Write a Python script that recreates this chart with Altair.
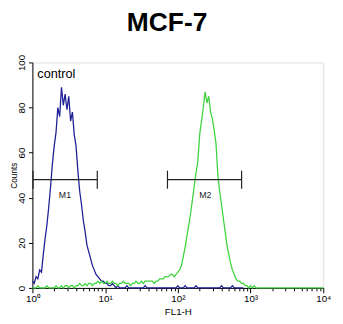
import altair as alt
import pandas as pd

TITLE = "MCF-7"
CONTROL_LABEL = "control"
X_TITLE = "FL1-H"
Y_TITLE = "Counts"
FONT = "Liberation Sans"
BLUE = "#1f1f96"
GREEN = "#3fd33f"

STEP = 0.025  # log10 channel width

# control histogram (blue), from 10^0 to 10^2.9
blue_counts = [3, 2, 5, 4, 8, 7, 15, 22, 28, 36, 45, 55, 63, 69, 80, 76, 89, 81, 86, 79,
               85, 74, 78, 68, 63, 52, 43, 37, 30, 25, 19, 16, 13, 10, 8, 6, 5, 4, 3, 3,
               2, 2, 1, 1, 2, 1, 0, 1,
               0, 0, 0, 0, 1, 0, 0, 0, 0, 0,
               0, 0, 0, 0, 1, 0, 0, 0, 0, 0,
               0, 0, 0, 0, 0, 0, 0, 0, 0, 0,
               0, 0, 1, 0, 0, 0, 1, 0, 0, 0,
               0, 0, 1, 0, 0, 0, 0, 0, 0, 0,
               0, 0, 0, 0, 0, 0, 1, 0, 0, 0,
               0, 0, 1, 0, 0, 0, 0, 0, 0]

# MCF-7 histogram (green), from 10^0 to 10^4
green_counts = ([0, 0, 0, 1, 0, 0, 0, 0, 1, 0, 0, 0, 0, 1, 0, 0, 1, 0, 1]
                + [1, 0, 1, 1, 0, 1, 1, 2, 1, 1, 2, 1, 2, 2, 1, 2, 2, 3, 2, 3, 2, 2]
                + [3, 2, 2, 3, 2, 2, 1, 2, 2, 3, 2, 2, 2, 1, 2, 2, 3, 2, 2, 3, 2, 3, 3, 3]
                + [3, 3, 2, 3, 3, 4, 4, 4, 5, 5, 5, 6, 6, 5, 6, 7]
                + [8, 10, 14, 18, 23, 28, 33, 39, 45, 51, 56, 68, 74, 80, 87, 82, 85, 78, 75, 70,
                   64, 50, 43, 37, 31, 25, 19, 15, 11, 8, 6, 4, 3, 3, 2, 2, 1, 1, 0, 1]
                + [0, 1, 0, 0, 0, 0, 0, 0, 0, 0, 0, 0, 0, 0, 0, 0, 0, 0, 0, 0,
                   0, 0, 0, 0, 0, 0, 0, 0, 0, 0, 0, 0, 0, 0, 0, 0, 0, 0, 0, 0])

x_major = [1, 10, 100, 1000, 10000]
x_major_labels = ["10⁰", "10¹", "10²", "10³", "10⁴"]
x_minor = [m * 10 ** d for d in range(4) for m in range(2, 10)]
y_ticks = [0, 20, 40, 60, 80, 100]

marker_names = ["M1", "M2"]
marker_start = [1.02, 72.0]
marker_end = [7.8, 753.0]
marker_level = [48, 48]
marker_cap_lo = [44, 44]
marker_cap_hi = [52, 52]
marker_label_x = [2.8, 238.0]
marker_label_y = [41, 41]

control_x = 1.17
control_y = 95

blue_df = pd.DataFrame({"fl": [10 ** (i * STEP) for i in range(len(blue_counts))],
                        "count": blue_counts})
green_df = pd.DataFrame({"fl": [10 ** (i * STEP) for i in range(len(green_counts))],
                         "count": green_counts})
bars_df = pd.DataFrame({"x": marker_start, "x2": marker_end, "y": marker_level})
caps_df = pd.DataFrame({"x": marker_start + marker_end,
                        "y": marker_cap_lo + marker_cap_lo,
                        "y2": marker_cap_hi + marker_cap_hi})
mlabels_df = pd.DataFrame({"x": marker_label_x, "y": marker_label_y, "t": marker_names})
ctrl_df = pd.DataFrame({"x": [control_x], "y": [control_y], "t": [CONTROL_LABEL]})

x_scale = alt.Scale(type="log", domain=[1, 10000], nice=False)
y_scale = alt.Scale(domain=[0, 100], nice=False)

label_expr = " : ".join(f"datum.value == {v} ? '{l}'" for v, l in zip(x_major, x_major_labels)) + " : ''"

major_axis = alt.Axis(values=x_major, labelExpr=label_expr, tickSize=5, grid=False,
                      labelFontSize=10, labelPadding=1, title=X_TITLE, titleFontSize=10,
                      titlePadding=3, titleFontWeight="normal", orient="bottom",
                      domainColor="black", tickColor="black", labelColor="black",
                      titleColor="black", labelFlush=False)
minor_axis = alt.Axis(values=x_minor, labels=False, tickSize=3, grid=False, domain=False,
                      orient="bottom", title=None, tickColor="black")
y_axis = alt.Axis(values=y_ticks, tickSize=4, grid=False, labelAngle=270,
                  labelAlign="center", labelBaseline="bottom", labelPadding=2,
                  labelFontSize=10, title=Y_TITLE, titleFontSize=8.5,
                  titleFontWeight="normal", titleX=-23, titleBaseline="top",
                  titleAngle=270, domainColor="black",
                  tickColor="black", labelColor="black", titleColor="black")


def yenc(field):
    return alt.Y(f"{field}:Q", scale=y_scale, axis=y_axis, title=Y_TITLE)


blue = alt.Chart(blue_df).mark_line(color=BLUE, strokeWidth=1.3).encode(
    x=alt.X("fl:Q", scale=x_scale, axis=major_axis, title=X_TITLE),
    y=yenc("count"),
)
green = alt.Chart(green_df).mark_line(color=GREEN, strokeWidth=1.3).encode(
    x=alt.X("fl:Q", scale=x_scale, axis=None),
    y=yenc("count"),
)
bars = alt.Chart(bars_df).mark_rule(color="#222222", strokeWidth=1.2).encode(
    x=alt.X("x:Q", scale=x_scale, axis=minor_axis),
    x2="x2:Q",
    y=yenc("y"),
)
caps = alt.Chart(caps_df).mark_rule(color="#222222", strokeWidth=1.2).encode(
    x=alt.X("x:Q", scale=x_scale, axis=None),
    y=yenc("y"),
    y2="y2:Q",
)
mlabels = alt.Chart(mlabels_df).mark_text(font=FONT, fontSize=9, color="#222222",
                                          baseline="middle", align="center").encode(
    x=alt.X("x:Q", scale=x_scale, axis=None),
    y=yenc("y"),
    text="t:N",
)
ctrl = alt.Chart(ctrl_df).mark_text(font=FONT, fontSize=13, color="black",
                                    baseline="middle", align="left").encode(
    x=alt.X("x:Q", scale=x_scale, axis=None),
    y=yenc("y"),
    text="t:N",
)

chart = alt.layer(blue, green, bars, caps, mlabels, ctrl).resolve_axis(
    x="independent"
).resolve_scale(x="shared", y="shared").properties(
    width=298,
    height=231,
    autosize=alt.AutoSizeParams(type="none"),
    padding={"left": 25, "top": 52, "right": 12, "bottom": 25},
    title=alt.TitleParams(text=TITLE, fontSize=27, fontWeight="bold", font=FONT,
                          anchor="middle", dx=-11, offset=-3, baseline="alphabetic",
                          color="black"),
).configure_view(stroke="black", strokeWidth=1).configure_axis(
    labelFont=FONT, titleFont=FONT
).configure(background="white")

chart.save("out.html", embed_options={"renderer": "svg", "actions": False})
